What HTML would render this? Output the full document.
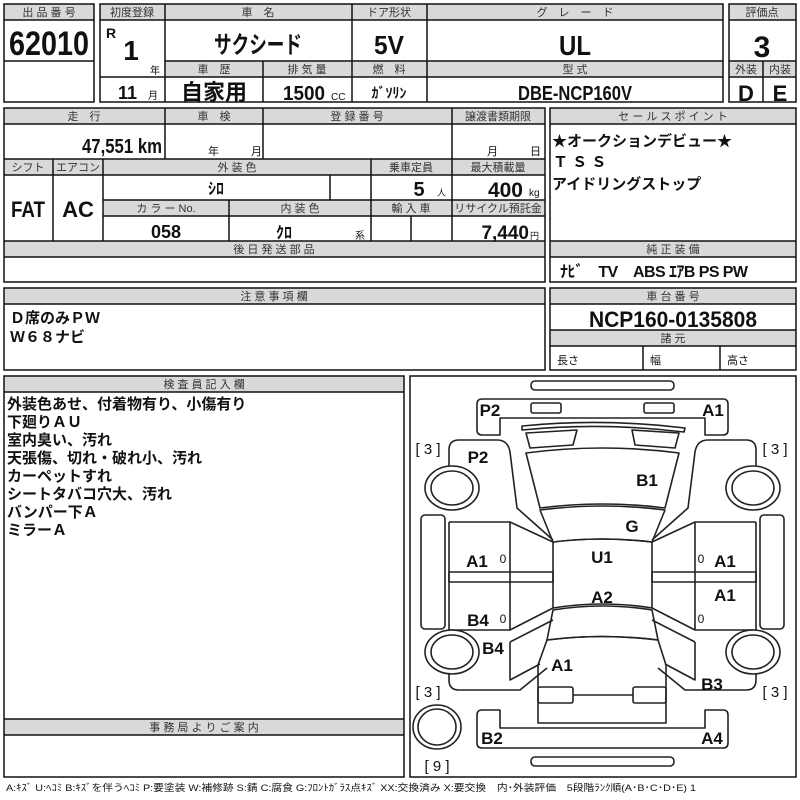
<!DOCTYPE html>
<html><head><meta charset="utf-8"><style>
html,body{margin:0;padding:0;background:#fff;}
svg{display:block;}
text{font-family:"Liberation Sans","Noto Sans CJK JP",sans-serif;fill:#111;}
.h{font-size:11px;text-anchor:middle;fill:#333;}
.b{font-weight:bold;}
.n{font-family:"Liberation Sans Narrow","Liberation Sans","Noto Sans CJK JP",sans-serif;font-weight:bold;}
.c{text-anchor:middle;}
.g{fill:#d9d9d9;}
.L{stroke:#111;stroke-width:1.5;fill:none;}
.d{stroke:#222;stroke-width:1.6;fill:none;stroke-linejoin:round;}
.dl{font-family:"Liberation Sans",sans-serif;font-weight:bold;font-size:17px;text-anchor:middle;}
</style></head><body>
<svg width="800" height="800" viewBox="0 0 800 800" xmlns="http://www.w3.org/2000/svg">
<!-- Block 1 -->
<rect class="g" x="4" y="4" width="90" height="16"/>
<rect class="L" x="4" y="4" width="90" height="98"/>
<line class="L" x1="4" y1="20" x2="94" y2="20"/><line class="L" x1="4" y1="61" x2="94" y2="61"/>
<text class="h" x="49" y="16">出 品 番 号</text>
<text class="n c" x="49" y="55" font-size="34" textLength="80" lengthAdjust="spacingAndGlyphs">62010</text>

<!-- Block 2 -->
<rect class="g" x="100" y="4" width="623" height="16"/>
<rect class="g" x="165" y="61" width="558" height="16"/>
<rect class="L" x="100" y="4" width="623" height="98"/>
<line class="L" x1="100" y1="20" x2="723" y2="20"/>
<line class="L" x1="165" y1="61" x2="723" y2="61"/>
<line class="L" x1="100" y1="77" x2="723" y2="77"/>
<line class="L" x1="165" y1="4" x2="165" y2="102"/>
<line class="L" x1="352" y1="4" x2="352" y2="102"/>
<line class="L" x1="427" y1="4" x2="427" y2="102"/>
<line class="L" x1="263" y1="61" x2="263" y2="102"/>
<text class="h" x="132" y="16">初度登録</text>
<text class="h" x="258" y="16">車　名</text>
<text class="h" x="389" y="16">ドア形状</text>
<text class="h" x="575" y="16">グ　レ　ー　ド</text>
<text class="b" x="106" y="38" font-size="14">R</text>
<text class="n c" x="131" y="60" font-size="28">1</text>
<text x="150" y="74" font-size="10">年</text>
<text class="n" x="118" y="99" font-size="18">11</text>
<text x="148" y="99" font-size="10">月</text>
<text class="n c" x="258" y="53" font-size="24" textLength="88" lengthAdjust="spacingAndGlyphs">サクシード</text>
<text class="n c" x="389" y="54" font-size="26" textLength="30" lengthAdjust="spacingAndGlyphs">5V</text>
<text class="n c" x="575" y="55" font-size="28" textLength="32" lengthAdjust="spacingAndGlyphs">UL</text>
<text class="h" x="214" y="73">車　歴</text>
<text class="h" x="307" y="73">排 気 量</text>
<text class="h" x="389" y="73">燃　料</text>
<text class="h" x="575" y="73">型 式</text>
<text class="b c" x="214" y="100" font-size="22">自家用</text>
<text class="n c" x="304" y="100" font-size="20" textLength="42" lengthAdjust="spacingAndGlyphs">1500</text>
<text x="331" y="100" font-size="10">CC</text>
<text class="n c" x="389" y="98" font-size="14">ｶﾞｿﾘﾝ</text>
<text class="n c" x="575" y="100" font-size="20" textLength="114" lengthAdjust="spacingAndGlyphs">DBE-NCP160V</text>

<!-- Block 3 -->
<rect class="g" x="729" y="4" width="67" height="16"/>
<rect class="g" x="729" y="61" width="67" height="16"/>
<rect class="L" x="729" y="4" width="67" height="98"/>
<line class="L" x1="729" y1="20" x2="796" y2="20"/><line class="L" x1="729" y1="61" x2="796" y2="61"/><line class="L" x1="729" y1="77" x2="796" y2="77"/>
<line class="L" x1="763" y1="61" x2="763" y2="102"/>
<text class="h" x="762" y="16">評価点</text>
<text class="n c" x="762" y="57" font-size="30">3</text>
<text class="h" x="746" y="73">外装</text><text class="h" x="780" y="73">内装</text>
<text class="n c" x="746" y="101" font-size="22">D</text><text class="n c" x="780" y="101" font-size="22">E</text>

<!-- Row 2 left -->
<rect class="g" x="4" y="108" width="541" height="16"/>
<rect class="g" x="4" y="159" width="541" height="16"/>
<rect class="g" x="103" y="200" width="442" height="16"/>
<rect class="g" x="4" y="241" width="541" height="16"/>
<rect class="L" x="4" y="108" width="541" height="174"/>
<line class="L" x1="4" y1="124" x2="545" y2="124"/>
<line class="L" x1="4" y1="159" x2="545" y2="159"/>
<line class="L" x1="4" y1="175" x2="545" y2="175"/>
<line class="L" x1="103" y1="200" x2="545" y2="200"/>
<line class="L" x1="103" y1="216" x2="545" y2="216"/>
<line class="L" x1="4" y1="241" x2="545" y2="241"/>
<line class="L" x1="4" y1="257" x2="545" y2="257"/>
<line class="L" x1="165" y1="108" x2="165" y2="159"/>
<line class="L" x1="263" y1="108" x2="263" y2="159"/>
<line class="L" x1="452" y1="108" x2="452" y2="241"/>
<line class="L" x1="53" y1="159" x2="53" y2="241"/>
<line class="L" x1="103" y1="159" x2="103" y2="241"/>
<line class="L" x1="371" y1="159" x2="371" y2="241"/>
<line class="L" x1="330" y1="175" x2="330" y2="200"/>
<line class="L" x1="229" y1="200" x2="229" y2="241"/>
<line class="L" x1="411" y1="216" x2="411" y2="241"/>
<text class="h" x="84" y="120">走　行</text>
<text class="h" x="214" y="120">車　検</text>
<text class="h" x="357" y="120">登 録 番 号</text>
<text class="h" x="498" y="120">譲渡書類期限</text>
<text class="n" x="82" y="153" font-size="20" textLength="80" lengthAdjust="spacingAndGlyphs">47,551 km</text>
<text x="208" y="155" font-size="11">年</text><text x="251" y="155" font-size="11">月</text>
<text x="487" y="155" font-size="11">月</text><text x="530" y="155" font-size="11">日</text>
<text class="h" x="28" y="171">シフト</text>
<text class="h" x="78" y="171">エアコン</text>
<text class="h" x="237" y="171">外 装 色</text>
<text class="h" x="411" y="171">乗車定員</text>
<text class="h" x="498" y="171">最大積載量</text>
<text class="n c" x="28" y="217" font-size="22" textLength="34" lengthAdjust="spacingAndGlyphs">FAT</text>
<text class="n c" x="78" y="217" font-size="22">AC</text>
<text class="n c" x="216" y="194" font-size="16">ｼﾛ</text>
<text class="n c" x="419" y="196" font-size="20">5</text>
<text x="437" y="196" font-size="9">人</text>
<text class="n" x="523" y="197" font-size="21" text-anchor="end">400</text>
<text x="529" y="196" font-size="10">kg</text>
<text class="h" x="166" y="212">カ ラ ー No.</text>
<text class="h" x="300" y="212">内 装 色</text>
<text class="h" x="411" y="212">輸 入 車</text>
<text class="h" x="498" y="212">リサイクル預託金</text>
<text class="n c" x="166" y="238" font-size="18">058</text>
<text class="n c" x="284" y="238" font-size="16">ｸﾛ</text>
<text x="355" y="239" font-size="10">系</text>
<text class="n" x="529" y="239" font-size="19" text-anchor="end">7,440</text>
<text x="530" y="239" font-size="9">円</text>
<text class="h" x="274" y="253">後 日 発 送 部 品</text>

<!-- Row 2 right -->
<rect class="g" x="550" y="108" width="246" height="16"/>
<rect class="g" x="550" y="241" width="246" height="16"/>
<rect class="L" x="550" y="108" width="246" height="174"/>
<line class="L" x1="550" y1="124" x2="796" y2="124"/>
<line class="L" x1="550" y1="241" x2="796" y2="241"/>
<line class="L" x1="550" y1="257" x2="796" y2="257"/>
<text class="h" x="673" y="120">セ ー ル ス ポ イ ン ト</text>
<text class="b" x="552" y="146" font-size="15">★オークションデビュー★</text>
<text class="b" x="553" y="167" font-size="15">Ｔ Ｓ Ｓ</text>
<text class="b" x="552" y="189" font-size="15">アイドリングストップ</text>
<text class="h" x="673" y="253">純 正 装 備</text>
<text class="n" x="560" y="277" font-size="16" textLength="188" lengthAdjust="spacing">ﾅﾋﾞ　TV　ABS  ｴｱB  PS  PW</text>

<!-- 注意事項 -->
<rect class="g" x="4" y="288" width="541" height="16"/>
<rect class="L" x="4" y="288" width="541" height="82"/>
<line class="L" x1="4" y1="304" x2="545" y2="304"/>
<text class="h" x="274" y="300">注 意 事 項 欄</text>
<text class="b" x="10" y="323" font-size="15">Ｄ席のみＰＷ</text>
<text class="b" x="10" y="342" font-size="15">Ｗ６８ナビ</text>

<!-- 車台番号 -->
<rect class="g" x="550" y="288" width="246" height="16"/>
<rect class="g" x="550" y="330" width="246" height="16"/>
<rect class="L" x="550" y="288" width="246" height="82"/>
<line class="L" x1="550" y1="304" x2="796" y2="304"/>
<line class="L" x1="550" y1="330" x2="796" y2="330"/>
<line class="L" x1="550" y1="346" x2="796" y2="346"/>
<line class="L" x1="643" y1="346" x2="643" y2="370"/>
<line class="L" x1="720" y1="346" x2="720" y2="370"/>
<text class="h" x="673" y="300">車 台 番 号</text>
<text class="n c" x="673" y="327" font-size="22" textLength="168" lengthAdjust="spacingAndGlyphs">NCP160-0135808</text>
<text class="h" x="673" y="342">諸 元</text>
<text x="557" y="364" font-size="11">長さ</text>
<text x="650" y="364" font-size="11">幅</text>
<text x="727" y="364" font-size="11">高さ</text>

<!-- 検査員 -->
<rect class="g" x="4" y="376" width="400" height="16"/>
<rect class="g" x="4" y="719" width="400" height="16"/>
<rect class="L" x="4" y="376" width="400" height="401"/>
<line class="L" x1="4" y1="392" x2="404" y2="392"/>
<line class="L" x1="4" y1="719" x2="404" y2="719"/>
<line class="L" x1="4" y1="735" x2="404" y2="735"/>
<text class="h" x="204" y="388">検 査 員 記 入 欄</text>
<g class="b" font-size="15">
<text x="7" y="409">外装色あせ、付着物有り、小傷有り</text>
<text x="7" y="427">下廻りＡＵ</text>
<text x="7" y="445">室内臭い、汚れ</text>
<text x="7" y="463">天張傷、切れ・破れ小、汚れ</text>
<text x="7" y="481">カーペットすれ</text>
<text x="7" y="499">シートタバコ穴大、汚れ</text>
<text x="7" y="517">バンパー下Ａ</text>
<text x="7" y="535">ミラーＡ</text>
</g>
<text class="h" x="204" y="731">事 務 局 よ り ご 案 内</text>

<!-- Diagram -->
<rect class="L" x="410" y="376" width="386" height="401"/>
<g class="d">
<rect x="531" y="381" width="143" height="9" rx="4"/>
<path d="M482,399 H723 Q728,399 728,404 V430 Q728,435 723,435 H705 V418 H500 V435 H482 Q477,435 477,430 V404 Q477,399 482,399 Z"/>
<rect x="531" y="403" width="30" height="10" rx="2"/>
<rect x="644" y="403" width="30" height="10" rx="2"/>
<path d="M522,426 Q602,418 685,428 L684,432 Q602,422 522,430 Z"/>
<path d="M526,433 L577,430 L573,445 L530,448 Z"/>
<path d="M632,430 L679,433 L675,448 L635,445 Z"/>
<path d="M526,453 Q602,443 679,453 L665,508 Q602,500 540,508 Z"/>
<path d="M540,510 Q602,502 665,510 L652,542 Q602,536 553,542 Z"/>
<path d="M553,542 Q602,536 652,542 V608 Q602,600 553,608 Z"/>
<path d="M553,610 Q602,602 652,610 L658,640 Q602,633 547,640 Z"/>
<path d="M547,640 Q602,633 658,640 L666,665 V723 H538 V665 Z"/>
<rect x="538" y="687" width="35" height="16" rx="2"/>
<rect x="633" y="687" width="33" height="16" rx="2"/>
<line x1="573" y1="695" x2="633" y2="695"/>
<!-- left -->
<path d="M449,466 V450 Q449,440 459,440 H497 Q508,440 510,452 L517,508 L553,540"/>
<path d="M449,522 H510 L553,542"/>
<path d="M449,522 V630 H510 L553,608"/>
<line x1="510" y1="522" x2="510" y2="630"/>
<rect x="449" y="572" width="104" height="10"/>
<rect x="421" y="515" width="24" height="114" rx="4"/>
<path d="M449,674 V680 Q449,690 459,690 H520 L547,668"/>
<path d="M510,642 L553,620 M510,642 V680 L540,664"/>
<!-- right -->
<path d="M756,466 V450 Q756,440 746,440 H708 Q697,440 695,452 L688,508 L652,540"/>
<path d="M756,522 H695 L652,542"/>
<path d="M756,522 V630 H695 L652,608"/>
<line x1="695" y1="522" x2="695" y2="630"/>
<rect x="652" y="572" width="104" height="10"/>
<rect x="760" y="515" width="24" height="114" rx="4"/>
<path d="M756,674 V680 Q756,690 746,690 H685 L658,668"/>
<path d="M695,642 L652,620 M695,642 V680 L665,664"/>
<!-- wheels -->
<g fill="#fff">
<ellipse cx="452" cy="488" rx="27" ry="22"/><ellipse cx="452" cy="488" rx="21" ry="17"/>
<ellipse cx="753" cy="488" rx="27" ry="22"/><ellipse cx="753" cy="488" rx="21" ry="17"/>
<ellipse cx="452" cy="652" rx="27" ry="22"/><ellipse cx="452" cy="652" rx="21" ry="17"/>
<ellipse cx="753" cy="652" rx="27" ry="22"/><ellipse cx="753" cy="652" rx="21" ry="17"/>
<ellipse cx="437" cy="727" rx="24" ry="22"/><ellipse cx="437" cy="727" rx="19" ry="18"/>
</g>
<!-- rear bumper -->
<path d="M482,748 H723 Q728,748 728,743 V715 Q728,710 723,710 H705 V728 H500 V710 H482 Q477,710 477,715 V743 Q477,748 482,748 Z"/>
<rect x="531" y="757" width="143" height="9" rx="4"/>
</g>
<g>
<text class="dl" x="490" y="416">P2</text>
<text class="dl" x="713" y="416">A1</text>
<text class="dl" x="478" y="463">P2</text>
<text class="dl" x="647" y="486">B1</text>
<text class="dl" x="632" y="532">G</text>
<text class="dl" x="602" y="563">U1</text>
<text class="dl" x="477" y="567">A1</text>
<text class="dl" x="725" y="567">A1</text>
<text class="dl" x="602" y="603">A2</text>
<text class="dl" x="725" y="601">A1</text>
<text class="dl" x="478" y="626">B4</text>
<text class="dl" x="493" y="654">B4</text>
<text class="dl" x="562" y="671">A1</text>
<text class="dl" x="712" y="690">B3</text>
<text class="dl" x="492" y="744">B2</text>
<text class="dl" x="712" y="744">A4</text>
<text x="503" y="563" font-size="12" text-anchor="middle">0</text>
<text x="701" y="563" font-size="12" text-anchor="middle">0</text>
<text x="503" y="623" font-size="12" text-anchor="middle">0</text>
<text x="701" y="623" font-size="12" text-anchor="middle">0</text>
<text x="428" y="454" font-size="15" text-anchor="middle">[ 3 ]</text>
<text x="775" y="454" font-size="15" text-anchor="middle">[ 3 ]</text>
<text x="428" y="697" font-size="15" text-anchor="middle">[ 3 ]</text>
<text x="775" y="697" font-size="15" text-anchor="middle">[ 3 ]</text>
<text x="437" y="771" font-size="15" text-anchor="middle">[ 9 ]</text>
</g>
<text x="6" y="791" font-size="9.5" textLength="690" lengthAdjust="spacingAndGlyphs" fill="#333">A:ｷｽﾞ U:ﾍｺﾐ B:ｷｽﾞを伴うﾍｺﾐ P:要塗装 W:補修跡 S:錆 C:腐食 G:ﾌﾛﾝﾄｶﾞﾗｽ点ｷｽﾞ XX:交換済み X:要交換　内･外装評価　5段階ﾗﾝｸ順(A･B･C･D･E) 1</text>
</svg>
</body></html>
